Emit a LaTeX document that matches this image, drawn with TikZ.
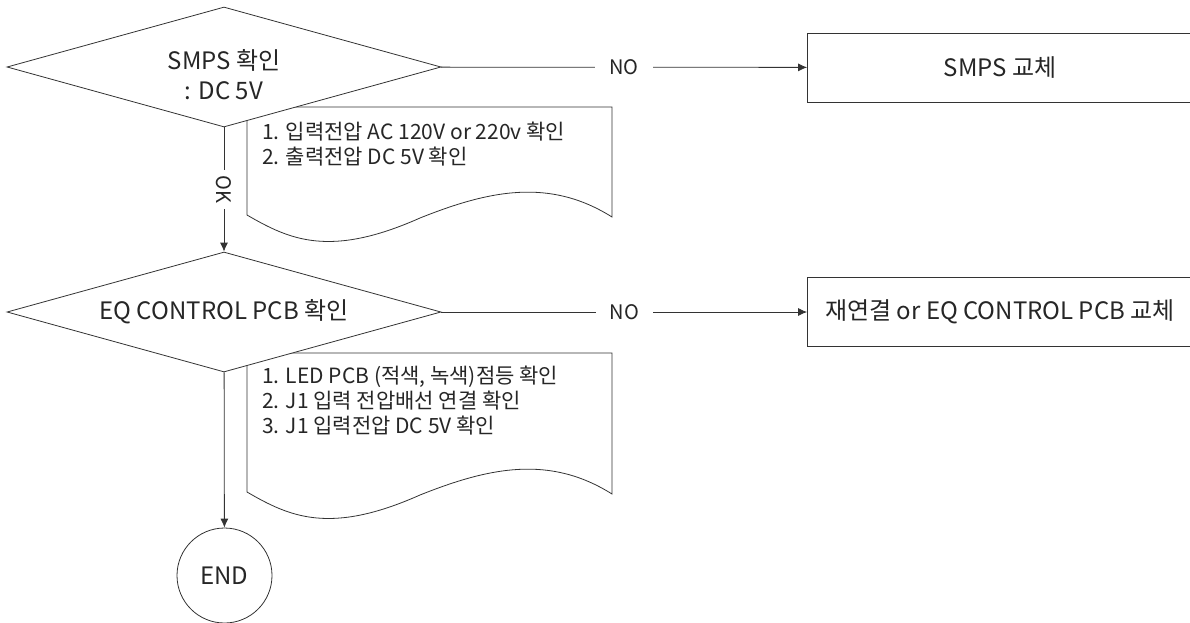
\documentclass[tikz,border=0pt]{standalone}
\usepackage{fontspec}
\setmainfont{Noto Sans CJK KR}
\usetikzlibrary{shapes.geometric}
\usetikzlibrary{positioning}
\usetikzlibrary{arrows.meta}
\usetikzlibrary{backgrounds}

\begin{document}
\begin{tikzpicture}[
    x=1pt,
    y=-1pt,
    >={Latex[length=9pt,width=8pt]},
    every node/.style={font=\fontsize{20}{25}\selectfont, text=black!85},
    line/.style={draw=black!80, line width=0.8pt},
    check/.style={
        line,
        shape=diamond,
        aspect=3.6,
        minimum width=434pt,
        minimum height=120pt,
        inner sep=0pt,
        fill=white,
        align=center,
        font=\fontsize{24}{28}\selectfont
    },
    action/.style={
        line,
        fill=white,
        minimum width=385pt,
        minimum height=69pt,
        inner sep=0pt,
        font=\fontsize{24}{28}\selectfont
    },
    terminal/.style={
        line,
        circle,
        minimum size=95pt,
        inner sep=0pt,
        font=\fontsize{24}{28}\selectfont
    },
    notetext/.style={
        align=left,
        inner sep=0pt,
        anchor=north west,
        font=\fontsize{21}{25}\selectfont
    },
    note/.style={line, fill=white},
    label/.style={fill=white, inner sep=4pt},
    arrow/.style={line, ->}
]
\useasboundingbox (0,0) rectangle (1190,622);
\clip (0,0) rectangle (1190,622);

% Decisions
\node[check] (smps) at (224,67) {\raisebox{-18pt}[0pt][0pt]{\begin{tabular}{@{}c@{}}SMPS 확인\\[2pt]: DC 5V\end{tabular}}};
\node[check] (eqpcb) at (224,312) {EQ CONTROL PCB 확인};
\node[terminal] (end) at (224.5,575.5) {END};

% Actions
\node[action] (smpsfix) at (1000,67.5) {SMPS 교체};
\node[action] (eqfix) at (1000,312) {재연결 or EQ CONTROL PCB 교체};

% Notes
\node[notetext] (note1) at (262,122) {1. 입력전압 AC 120V or 220v 확인\\2. 출력전압 DC 5V 확인};
\node[notetext] (note2) at (262,366) {1. LED PCB (적색, 녹색)점등 확인\\2. J1 입력 전압배선 연결 확인\\3. J1 입력전압 DC 5V 확인};

\begin{scope}[on background layer]
    \draw[note] (247,107) -- (612,107) -- (612,217)
        .. controls (550,178) and (490,190) .. (420,218)
        .. controls (330,258) and (290,240) .. (247,215) -- cycle;
    \draw[note] (247,353) -- (612,353) -- (612,494)
        .. controls (550,455) and (490,467) .. (420,495)
        .. controls (330,535) and (290,517) .. (247,492) -- cycle;
\end{scope}

% Arrows
\draw[arrow] (smps) -- node[label, rotate=-90, inner xsep=6pt] {OK} (eqpcb);
\draw[arrow] (eqpcb) -- (end);
\draw[arrow] (smps) -- node[label, inner xsep=14pt] {NO} (smpsfix);
\draw[arrow] (eqpcb) -- node[label, inner xsep=14pt] {NO} (eqfix);

\end{tikzpicture}
\end{document}
